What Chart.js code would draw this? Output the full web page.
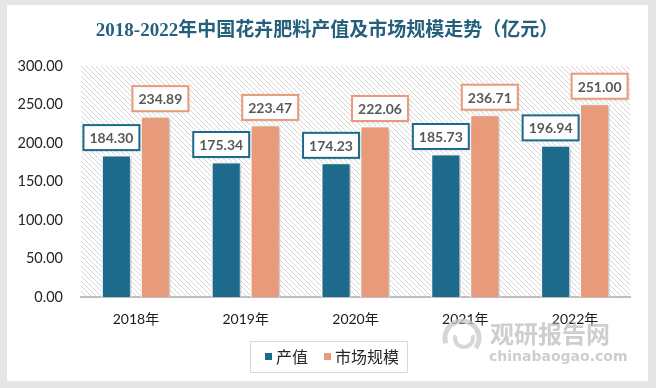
<!DOCTYPE html>
<html>
<head>
<meta charset="utf-8">
<script src="https://cdn.jsdelivr.net/npm/chart.js@4"></script>
<style>
  html, body { margin: 0; padding: 0; background: #e6e6e6; }
  #wrap { width: 656px; height: 388px; }
</style>
</head>
<body>
<div id="wrap"><canvas id="c" width="656" height="388"></canvas></div>
<script>
const years = ['2018年', '2019年', '2020年', '2021年', '2022年'];
const output = [184.30, 175.34, 174.23, 185.73, 196.94];
const market = [234.89, 223.47, 222.06, 236.71, 251.00];
const yTicks = [0, 50, 100, 150, 200, 250, 300];

const title = '2018-2022年中国花卉肥料产值及市场规模走势（亿元）';
const blue = '#1d6a8d';
const orange = '#e89b7a';

// diagonal hatch for the plot area
function hatch() {
  const p = document.createElement('canvas');
  p.width = 5; p.height = 5;
  const g = p.getContext('2d');
  g.fillStyle = '#ffffff';
  g.fillRect(0, 0, 5, 5);
  g.strokeStyle = '#d6d6d6';
  g.lineWidth = 1;
  g.beginPath();
  g.moveTo(-1, -1); g.lineTo(6, 6);
  g.moveTo(-1, 4); g.lineTo(1, 6);
  g.moveTo(4, -1); g.lineTo(6, 1);
  g.stroke();
  return p;
}

const frame = {
  id: 'frame',
  beforeDraw(chart) {
    const ctx = chart.ctx;
    const a = chart.chartArea;
    ctx.save();
    ctx.fillStyle = '#e6e6e6';
    ctx.fillRect(0, 0, 656, 388);
    ctx.fillStyle = '#ffffff';
    ctx.fillRect(7, 5, 641, 376);
    ctx.fillStyle = ctx.createPattern(hatch(), 'repeat');
    ctx.fillRect(a.left, a.top, a.right - a.left, a.bottom - a.top);

    ctx.fillStyle = '#24607c';
    ctx.font = 'bold 19px "Liberation Serif", "Noto Sans CJK SC"';
    ctx.textAlign = 'center';
    ctx.textBaseline = 'middle';
    ctx.fillText(title, 327, 31);
    ctx.restore();
  },
  beforeDatasetsDraw(chart) {
    const ctx = chart.ctx;
    ctx.save();
    ctx.shadowColor = 'rgba(0,0,0,0.25)';
    ctx.shadowBlur = 4;
    ctx.shadowOffsetX = 2;
    ctx.shadowOffsetY = 1;
  },
  afterDatasetsDraw(chart) {
    const ctx = chart.ctx;
    ctx.restore();
    ctx.save();
    ctx.font = 'bold 14px Lato';
    ctx.textAlign = 'center';
    ctx.textBaseline = 'middle';
    chart.data.datasets.forEach((ds, di) => {
      const meta = chart.getDatasetMeta(di);
      const shift = di === 0 ? -5 : 5;
      meta.data.forEach((bar, i) => {
        const txt = ds.data[i].toFixed(2);
        const w = ctx.measureText(txt).width + 12;
        const h = 25;
        const cx = bar.x + shift;
        const bottom = bar.y - 5;
        ctx.shadowColor = 'rgba(0,0,0,0.2)';
        ctx.shadowBlur = 3;
        ctx.shadowOffsetX = 1;
        ctx.shadowOffsetY = 1;
        ctx.fillStyle = '#ffffff';
        ctx.fillRect(cx - w / 2, bottom - h, w, h);
        ctx.shadowColor = 'transparent';
        ctx.strokeStyle = ds.backgroundColor;
        ctx.lineWidth = 2;
        ctx.strokeRect(cx - w / 2, bottom - h, w, h);
        ctx.fillStyle = '#595959';
        ctx.fillText(txt, cx, bottom - h / 2 + 1);
      });
    });
    ctx.restore();
  },
  afterDraw(chart) {
    const ctx = chart.ctx;
    ctx.save();
    // legend
    ctx.strokeStyle = '#d9d9d9';
    ctx.lineWidth = 1;
    ctx.strokeRect(250.5, 341.5, 157, 31);
    ctx.font = '16px "Noto Sans CJK SC"';
    ctx.textBaseline = 'middle';
    ctx.textAlign = 'left';
    chart.data.datasets.forEach((ds, di) => {
      const x = di === 0 ? 265 : 324;
      ctx.fillStyle = ds.backgroundColor;
      ctx.fillRect(x, 353, 7, 7);
      ctx.fillStyle = '#262626';
      ctx.fillText(ds.label, x + 11, 357);
    });

    // watermark
    ctx.globalAlpha = 0.75;
    ctx.strokeStyle = '#c8c8c8';
    ctx.lineWidth = 5;
    ctx.beginPath();
    ctx.arc(462, 338, 17, Math.PI * 0.9, Math.PI * 2.2);
    ctx.stroke();
    ctx.lineWidth = 4;
    ctx.beginPath();
    ctx.arc(464, 338, 9, Math.PI * 1.9, Math.PI * 3.1);
    ctx.stroke();
    ctx.fillStyle = '#bdbdbd';
    ctx.font = 'bold 24px "Noto Sans CJK SC"';
    ctx.textAlign = 'left';
    ctx.fillText('观研报告网', 490, 334);
    ctx.font = 'bold 14px "DejaVu Sans"';
    ctx.fillText('chinabaogao.com', 489, 357);
    ctx.restore();
  }
};

new Chart(document.getElementById('c'), {
  type: 'bar',
  data: {
    labels: years,
    datasets: [
      { label: '产值', data: output, backgroundColor: blue, borderColor: '#ffffff', borderWidth: 1.5 },
      { label: '市场规模', data: market, backgroundColor: orange, borderColor: '#ffffff', borderWidth: 1.5 }
    ]
  },
  options: {
    responsive: false,
    animation: false,
    devicePixelRatio: 1,
    layout: { padding: { left: 7, right: 26, top: 66, bottom: 51 } },
    datasets: { bar: { categoryPercentage: 0.71, barPercentage: 0.77 } },
    plugins: {
      legend: { display: false },
      title: { display: false },
      tooltip: { enabled: false }
    },
    scales: {
      x: {
        grid: { display: false, drawTicks: false },
        border: { color: '#bfbfbf', width: 2 },
        ticks: { color: '#1a1a1a', font: { family: 'Lato, "Noto Sans CJK SC"', size: 14 }, padding: 14 },
        afterFit(s) { s.height = 40; }
      },
      y: {
        min: 0,
        max: 300,
        grid: { display: false, drawTicks: false },
        border: { display: false },
        afterBuildTicks(s) { s.ticks = yTicks.map(v => ({ value: v })); },
        ticks: {
          color: '#262626',
          font: { family: 'Lato', size: 14.5 },
          padding: 18,
          callback: v => v.toFixed(2)
        },
        afterFit(s) { s.width = 74; }
      }
    }
  },
  plugins: [frame]
});
</script>
</body>
</html>
